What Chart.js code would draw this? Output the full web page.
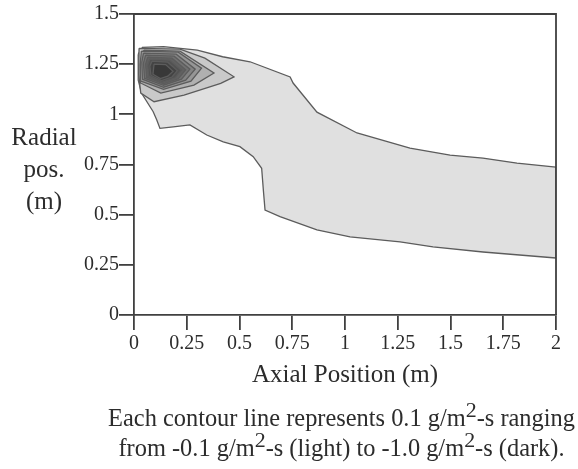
<!DOCTYPE html>
<html>
<head>
<meta charset="utf-8">
<script src="https://cdn.jsdelivr.net/npm/chart.js@4.4.1/dist/chart.umd.min.js"></script>
<style>
  html, body { margin: 0; padding: 0; background: #fff; }
  #wrap { position: relative; width: 578px; height: 469px; overflow: hidden; }
  #ytitle { position: absolute; left: 0; width: 88px; top: 121px; text-align: center;
            font: 25px "Liberation Serif"; line-height: 32px; color: #2c2c2c; }
  #caption { position: absolute; left: 100px; width: 483px; top: 403px; text-align: center;
             font: 24.4px "Liberation Serif"; line-height: 30px; color: #2c2c2c; white-space: nowrap; }
  #caption sup { font-size: 0.9em; line-height: 0; vertical-align: 0.42em; }
</style>
</head>
<body>
<div id="wrap">
  <canvas id="contourChart" width="578" height="469"></canvas>
  <div id="ytitle">Radial<br>pos.<br>(m)</div>
  <div id="caption">Each contour line represents 0.1 g/m<sup>2</sup>-s ranging<br>from -0.1 g/m<sup>2</sup>-s (light) to -1.0 g/m<sup>2</sup>-s (dark).</div>
</div>
<script>
// tick labels
const xTickLabels = ['0', '0.25', '0.5', '0.75', '1', '1.25', '1.5', '1.75', '2'];
const yTickLabels = ['0', '0.25', '0.5', '0.75', '1', '1.25', '1.5'];

// contour levels, g/m2-s
const levels = [-0.1, -0.2, -0.3, -0.4, -0.5, -0.6, -0.7, -0.8, -0.9, -1.0];

// contour outlines as [axial, radial] pairs (m), outer to inner
const c01 = [[0.02, 1.30], [0.04, 1.334], [0.14, 1.337], [0.30, 1.32], [0.42, 1.287], [0.55, 1.262],
  [0.74, 1.186], [0.754, 1.156], [0.867, 1.011], [1.057, 0.907], [1.308, 0.832], [1.498, 0.797],
  [1.654, 0.782], [1.815, 0.757], [2.0, 0.737], [2.0, 0.284], [1.654, 0.314], [1.417, 0.339],
  [1.261, 0.364], [1.024, 0.389], [0.867, 0.424], [0.692, 0.49], [0.621, 0.523], [0.613, 0.623],
  [0.605, 0.731], [0.565, 0.789], [0.502, 0.839], [0.423, 0.863], [0.345, 0.897], [0.265, 0.947],
  [0.186, 0.938], [0.123, 0.930], [0.108, 0.972], [0.091, 1.013], [0.036, 1.105], [0.02, 1.17]];
const c02 = [[0.024, 1.329], [0.218, 1.325], [0.336, 1.28], [0.474, 1.187], [0.411, 1.154],
  [0.237, 1.096], [0.095, 1.063], [0.032, 1.106], [0.022, 1.2]];
const c03 = [[0.047, 1.32], [0.218, 1.315], [0.379, 1.206], [0.284, 1.146], [0.127, 1.106],
  [0.032, 1.156], [0.03, 1.25]];
const c04 = [[0.035, 1.315], [0.21, 1.31], [0.32, 1.23], [0.27, 1.165], [0.14, 1.125], [0.033, 1.165], [0.03, 1.26]];
const c05 = [[0.045, 1.305], [0.2, 1.30], [0.29, 1.225], [0.245, 1.17], [0.14, 1.135], [0.04, 1.175], [0.037, 1.26]];
const c06 = [[0.055, 1.295], [0.19, 1.29], [0.265, 1.225], [0.225, 1.175], [0.14, 1.145], [0.05, 1.18], [0.045, 1.255]];
const c07 = [[0.065, 1.285], [0.18, 1.28], [0.245, 1.222], [0.21, 1.178], [0.14, 1.152], [0.06, 1.185], [0.055, 1.25]];
const c08 = [[0.075, 1.275], [0.17, 1.27], [0.225, 1.22], [0.195, 1.182], [0.135, 1.16], [0.07, 1.19], [0.065, 1.245]];
const c09 = [[0.085, 1.265], [0.16, 1.26], [0.205, 1.218], [0.18, 1.186], [0.13, 1.168], [0.08, 1.195], [0.075, 1.24]];
const c10 = [[0.095, 1.25], [0.15, 1.248], [0.185, 1.215], [0.16, 1.19], [0.125, 1.178], [0.09, 1.2]];

const contours = [c01, c02, c03, c04, c05, c06, c07, c08, c09, c10];
const shades = ['#e0e0e0', '#c9c9c9', '#b0b0b0', '#969696', '#838383', '#717171', '#616161', '#525252', '#444444', '#383838'];

const ink = '#2c2c2c';
const serif = 'Liberation Serif';

// closes each outline so the fill follows the shape
const datasets = contours.map((pts, i) => ({
  label: levels[i] + ' g/m2-s',
  data: pts.concat([pts[0]]).map(([x, y]) => ({ x: x, y: y })),
  showLine: true,
  fill: 'shape',
  backgroundColor: shades[i],
  borderColor: '#5c5c5c',
  borderWidth: 1.3,
  pointRadius: 0,
  tension: 0,
  order: contours.length - i
}));

// top and right edges of the plot box
const frame = {
  id: 'frame',
  afterDatasetsDraw(chart) {
    const { ctx, chartArea: a } = chart;
    ctx.save();
    ctx.strokeStyle = '#404040';
    ctx.lineWidth = 1.8;
    ctx.beginPath();
    ctx.moveTo(a.left, a.top);
    ctx.lineTo(a.right, a.top);
    ctx.lineTo(a.right, a.bottom);
    ctx.stroke();
    ctx.restore();
  }
};

const ctx = document.getElementById('contourChart');

new Chart(ctx, {
  type: 'scatter',
  data: { datasets: datasets },
  plugins: [frame],
  options: {
    responsive: false,
    animation: false,
    layout: { padding: { top: 14, right: 22, left: 0, bottom: 0 } },
    plugins: {
      legend: { display: false },
      tooltip: { enabled: false }
    },
    scales: {
      x: {
        type: 'linear',
        min: 0,
        max: 2,
        afterFit: s => { s.height = 154 },
        ticks: {
          stepSize: 0.25,
          padding: 2,
          color: ink,
          font: { family: serif, size: 20 },
          maxRotation: 0,
          callback: (v, i) => xTickLabels[i]
        },
        grid: { drawOnChartArea: false, tickLength: 15, color: '#404040', lineWidth: 1.8 },
        border: { display: true, color: '#404040', width: 1.8 },
        title: {
          display: true,
          text: 'Axial Position (m)',
          color: ink,
          font: { family: serif, size: 25 },
          padding: { top: 0, bottom: 79 }
        }
      },
      y: {
        type: 'linear',
        min: 0,
        max: 1.5,
        afterFit: s => { s.width = 134 },
        ticks: {
          stepSize: 0.25,
          padding: 0,
          color: ink,
          font: { family: serif, size: 20 },
          callback: (v, i) => yTickLabels[i]
        },
        grid: { drawOnChartArea: false, tickLength: 15, color: '#404040', lineWidth: 1.8 },
        border: { display: true, color: '#404040', width: 1.8 }
      }
    }
  }
});
</script>
</body>
</html>
